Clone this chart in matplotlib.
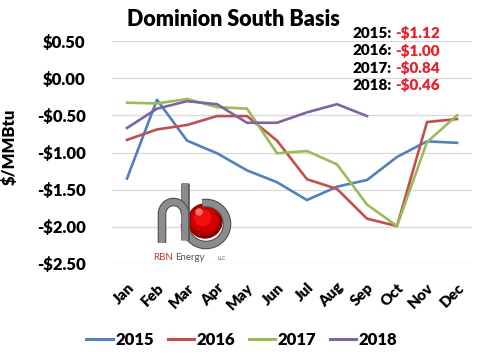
import numpy as np
import matplotlib
matplotlib.use("Agg")
import matplotlib.pyplot as plt
import matplotlib.patheffects as pe

plt.rcParams['font.family'] = ['Lato', 'DejaVu Sans']

months = ["Jan", "Feb", "Mar", "Apr", "May", "Jun", "Jul", "Aug", "Sep", "Oct", "Nov", "Dec"]
s2015 = [-1.35, -0.29, -0.84, -1.01, -1.24, -1.40, -1.64, -1.46, -1.37, -1.06, -0.85, -0.87]
s2016 = [-0.83, -0.69, -0.63, -0.51, -0.51, -0.84, -1.36, -1.49, -1.89, -1.99, -0.59, -0.55]
s2017 = [-0.33, -0.34, -0.28, -0.39, -0.41, -1.01, -0.98, -1.16, -1.70, -1.99, -0.86, -0.50]
s2018 = [-0.67, -0.41, -0.31, -0.35, -0.60, -0.60, -0.46, -0.35, -0.51]
years = ["2015", "2016", "2017", "2018"]
averages = ["-$1.12", "-$1.00", "-$0.84", "-$0.46"]
yticks = [0.5, 0.0, -0.5, -1.0, -1.5, -2.0, -2.5]
ytick_labels = ["$0.50", "$0.00", "-$0.50", "-$1.00", "-$1.50", "-$2.00", "-$2.50"]
colors = ["#4F81BD", "#C0504D", "#9BBB59", "#8064A2"]

W, H = 480, 355
fig = plt.figure(figsize=(4.8, 3.55), dpi=100)
ax = fig.add_axes([112 / W, 1 - 264 / H, 360 / W, 223 / H])

x = np.arange(len(months))
for series, c, lab in zip([s2015, s2016, s2017, s2018], colors, years):
    ax.plot(x[:len(series)], series, color=c, lw=1.9, label=lab, zorder=3)

ax.set_xlim(-0.5, 11.5)
ax.set_ylim(-2.5, 0.5)
ax.set_yticks(yticks)
ax.set_yticklabels(ytick_labels, fontsize=12, fontweight='heavy')
ax.set_xticks(x)
ax.set_xticklabels(months, fontsize=11, fontweight='heavy', rotation=45,
                   ha='right', va='top', rotation_mode='anchor')
ax.tick_params(axis='both', length=0)
ax.tick_params(axis='y', pad=19)
ax.tick_params(axis='x', pad=12)
ax.grid(axis='y', color='#D9D9D9', lw=0.9, zorder=0)
for s in ax.spines.values():
    s.set_visible(False)
ax.set_ylabel("$/MMBtu", fontsize=12, fontweight='heavy')
ax.yaxis.set_label_coords(-0.262, 0.525)

fig.text(233 / W, 1 - 20 / H, "Dominion South Basis", fontsize=15.5, fontweight='heavy',
         ha='center', va='center')

for i, (yr, av) in enumerate(zip(years, averages)):
    yy = 1 - (33.5 + 17.3 * i) / H
    fig.text(392 / W, yy, yr + ":", fontsize=11, fontweight='heavy', ha='right', va='center')
    fig.text(395 / W, yy, av, fontsize=11, fontweight='heavy', ha='left', va='center',
             color='#E8202A')

leg = fig.legend(loc='center', bbox_to_anchor=(242 / W, 1 - 340 / H), ncol=4, frameon=False,
                 prop={'weight': 'heavy', 'size': 12}, handlelength=1.6, handletextpad=0.15,
                 columnspacing=0.8)
for line in leg.get_lines():
    line.set_linewidth(2.2)

# RBN Energy logo (decoration)
lax = fig.add_axes([0, 0, 1, 1], zorder=5)
lax.set_xlim(0, W)
lax.set_ylim(H, 0)
lax.axis('off')
gray = '#8C8C8C'
eff = [pe.Stroke(linewidth=6.2, foreground='#555555'), pe.Normal()]
# red sphere
for r, c in [(17, '#8B0000'), (15, '#B00000'), (12, '#D40000'), (8, '#F01010')]:
    lax.add_patch(plt.Circle((205 - (17 - r) * 0.25, 221 - (17 - r) * 0.35), r, color=c, zorder=2))
lax.add_patch(plt.Circle((199, 212), 3, color='#FF7070', zorder=3))
# bowl of b
th = np.radians(np.linspace(-180, 100, 80))
bx = 206 + 21 * np.cos(th)
by = 224 - 21 * np.sin(th)
lax.plot(bx, by, color=gray, lw=4.5, solid_capstyle='butt', path_effects=eff, zorder=4)
# stem
lax.plot([185, 185], [183, 240], color=gray, lw=4.5, solid_capstyle='butt', path_effects=eff, zorder=4)
# r arc
th2 = np.radians(np.linspace(0, 180, 40))
rx = 173.5 + 11.5 * np.cos(th2)
ry = 214 - 12 * np.sin(th2)
lax.plot(np.r_[rx, 162], np.r_[ry, 243], color=gray, lw=4.5, solid_capstyle='butt',
         path_effects=eff, zorder=4)
lax.text(173, 257, "RBN", color='#C0392B', fontsize=7, ha='right', va='center', zorder=6)
lax.text(175, 257, "Energy", color='#555555', fontsize=7, ha='left', va='center', zorder=6)
lax.text(218, 258, "LLC", color='#555555', fontsize=3.5, ha='left', va='center', zorder=6)

fig.savefig("out.png", dpi=100)
